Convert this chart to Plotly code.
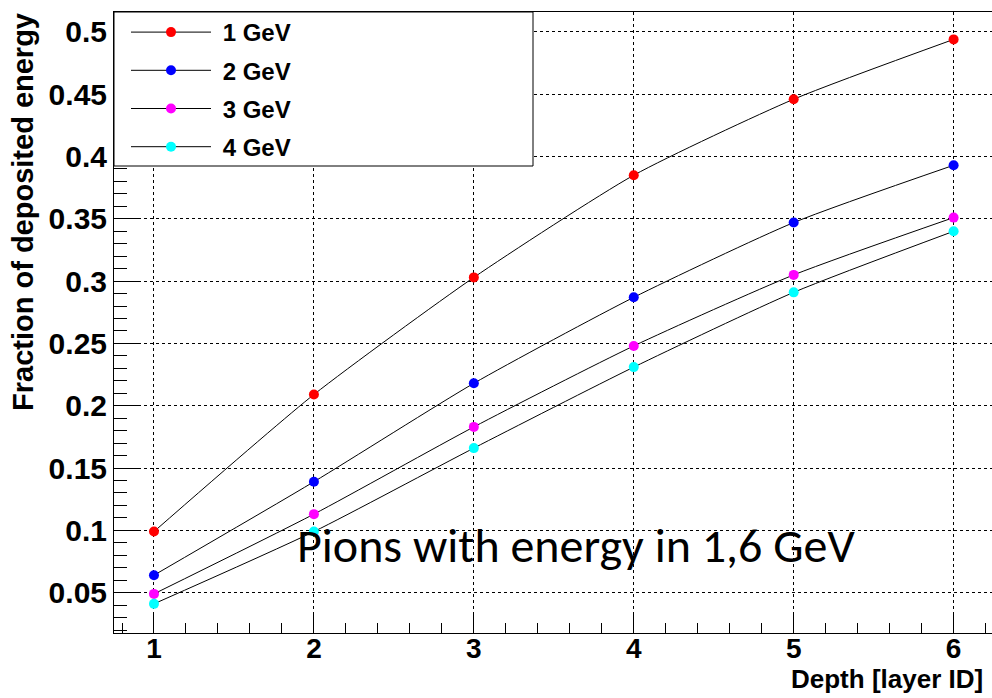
import plotly.graph_objects as go

# Longitudinal shower profile: cumulative fraction of deposited energy per layer
depth = [1, 2, 3, 4, 5, 6]
series_names = ["1 GeV", "2 GeV", "3 GeV", "4 GeV"]
series_colors = ["#ff0000", "#0000ff", "#ff00ff", "#00ffff"]
frac_1gev = [0.099, 0.209, 0.303, 0.385, 0.446, 0.494]
frac_2gev = [0.064, 0.139, 0.218, 0.287, 0.347, 0.393]
frac_3gev = [0.049, 0.113, 0.183, 0.248, 0.305, 0.351]
frac_4gev = [0.041, 0.099, 0.166, 0.231, 0.291, 0.340]
series_values = [frac_1gev, frac_2gev, frac_3gev, frac_4gev]

x_ticks = [1, 2, 3, 4, 5, 6]
y_ticks = [0.05, 0.1, 0.15, 0.2, 0.25, 0.3, 0.35, 0.4, 0.45, 0.5]
y_tick_text = ["0.05", "0.1", "0.15", "0.2", "0.25", "0.3", "0.35", "0.4", "0.45", "0.5"]

W, H = 992, 698
ML, MR, MT, MB = 114, 0, 12, 65
BOLD = dict(family="Liberation Sans, Arial, Helvetica, sans-serif", color="black", weight="bold")

fig = go.Figure()
for name, color, vals in zip(series_names, series_colors, series_values):
    fig.add_trace(go.Scatter(
        x=depth, y=vals, name="\u00a0" + name, legendgroup=name,
        mode="lines+markers",
        line=dict(color="black", width=1, shape="spline", smoothing=0.6),
        marker=dict(color=color, size=10, symbol="circle"),
    ))

# white legend frame (covers the grid in the upper-left corner)
pw = W - ML - MR
ph = H - MT - MB
fig.add_shape(type="rect", xref="paper", yref="paper",
              x0=0, x1=(533 - ML) / pw, y0=(H - MB - 166) / ph, y1=1,
              line=dict(color="black", width=1), fillcolor="white", layer="above")

fig.update_layout(
    width=W, height=H,
    margin=dict(l=ML, r=MR, t=MT, b=MB, pad=0),
    paper_bgcolor="white", plot_bgcolor="white",
    showlegend=True,
    legend=dict(
        x=12 / pw, y=1.0 + 2 / ph, xanchor="left", yanchor="top",
        bgcolor="rgba(0,0,0,0)", borderwidth=0,
        font=dict(size=24, **BOLD),
        itemwidth=80, tracegroupgap=4,
    ),
    xaxis=dict(
        range=[0.75, 6.24],
        tickvals=x_ticks, ticktext=[str(v) for v in x_ticks],
        ticks="inside", ticklen=20, tickwidth=1, tickcolor="black",
        minor=dict(dtick=0.2, tick0=0, ticks="inside", ticklen=10, tickwidth=1, tickcolor="black", showgrid=False),
        showgrid=True, gridcolor="black", griddash="dot", gridwidth=1,
        showline=True, linecolor="black", linewidth=1, mirror=True,
        zeroline=False, ticklabelstandoff=-10,
        tickfont=dict(size=28, **BOLD),
    ),
    yaxis=dict(
        range=[0.0176, 0.516],
        tickvals=y_ticks, ticktext=y_tick_text,
        ticks="inside", ticklen=26, tickwidth=1, tickcolor="black",
        minor=dict(dtick=0.01, tick0=0, ticks="inside", ticklen=13, tickwidth=1, tickcolor="black", showgrid=False),
        showgrid=True, gridcolor="black", griddash="dot", gridwidth=1,
        showline=True, linecolor="black", linewidth=1, mirror=False,
        zeroline=False,
        tickfont=dict(size=30, **BOLD),
    ),
    annotations=[
        dict(text="Fraction of deposited energy", xref="paper", yref="paper",
             x=(23 - ML) / pw, y=(H - MB - 212) / ph, xanchor="center", yanchor="middle",
             textangle=-90, showarrow=False, font=dict(size=29, **BOLD)),
        dict(text="Depth [layer ID]", xref="paper", yref="paper",
             x=(985 - ML) / pw, y=(H - MB - 679) / ph, xanchor="right", yanchor="middle",
             showarrow=False, font=dict(size=26, **BOLD)),
        dict(text="Pions with energy in 1,6 GeV", xref="paper", yref="paper",
             x=(295 - ML) / pw, y=(H - MB - 545) / ph, xanchor="left", yanchor="middle",
             showarrow=False,
             font=dict(family="Carlito, Calibri, Lato, sans-serif", size=48, color="black")),
    ],
)

fig.write_html("out.html")
